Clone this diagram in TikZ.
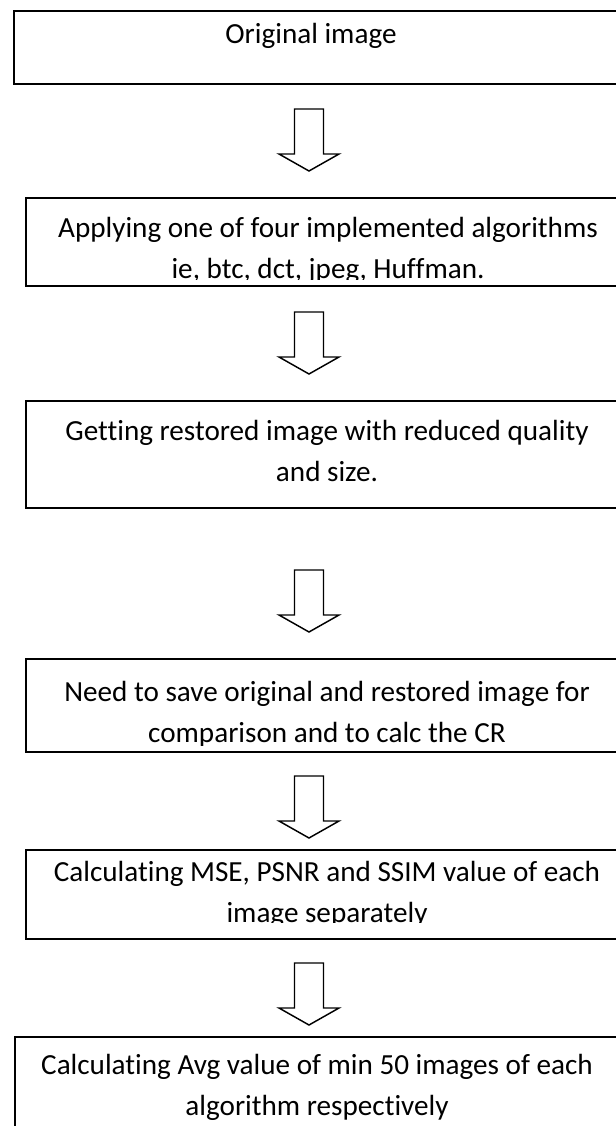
\documentclass[tikz,border=0pt]{standalone}
\usepackage{fontspec}
\setmainfont[Ligatures=NoCommon]{Carlito}
\usetikzlibrary{positioning,calc}

\begin{document}
\begin{tikzpicture}[x=0.48pt, y=-0.48pt,
  stepbox/.style={rectangle, draw=black, line width=1pt, anchor=north west, inner sep=0pt},
  steptext/.style={anchor=north, inner sep=0pt, align=center, font=\fontsize{14}{19.68}\selectfont},
  blockarrow/.pic={\draw[line width=0.7pt, line join=miter] (-14.5,-31) -- (14.5,-31) -- (14.5,14) -- (30,14) -- (0,31) -- (-30,14) -- (-14.5,14) -- cycle;}]
\clip (0,0) rectangle (616,1126);
% boxes
\node[stepbox, minimum width=300.96pt, minimum height=35.04pt] (b1) at (13,10) {};
\node[stepbox, minimum width=295.2pt, minimum height=42.24pt] (b2) at (25,197) {};
\node[stepbox, minimum width=295.2pt, minimum height=51.36pt] (b3) at (25,400) {};
\node[stepbox, minimum width=295.2pt, minimum height=44.64pt] (b4) at (25,658) {};
\node[stepbox, minimum width=295.2pt, minimum height=42.72pt] (b5) at (25,849) {};
\node[stepbox, minimum width=300.48pt, minimum height=57.6pt] (b6) at (14,1036) {};
% texts, cut off at the inner margin of each box
\begin{scope}
  \clip (b1.north west) rectangle ([yshift=3.6pt]b1.south east);
  \node[steptext] (t1) at (311,23) {Original image};
\end{scope}
\begin{scope}
  \clip (b2.north west) rectangle ([yshift=3.6pt]b2.south east);
  \node[steptext] (t2) at (328,217) {Applying one of four implemented algorithms\\ie, btc, dct, jpeg, Huffman.};
\end{scope}
\begin{scope}
  \clip (b3.north west) rectangle ([yshift=3.6pt]b3.south east);
  \node[steptext] (t3) at (327,420) {Getting restored image with reduced quality\\and size.};
\end{scope}
\begin{scope}
  \clip (b4.north west) rectangle ([yshift=3.6pt]b4.south east);
  \node[steptext] (t4) at (327,681) {Need to save original and restored image for\\comparison and to calc the CR};
\end{scope}
\begin{scope}
  \clip (b5.north west) rectangle ([yshift=8.4pt]b5.south east);
  \node[steptext] (t5) at (327,861) {Calculating MSE, PSNR and SSIM value of each\\image separately};
\end{scope}
\node[steptext] (t6) at (317,1054) {Calculating Avg value of min 50 images of each\\algorithm respectively};
% arrows
\pic at (309,140) {blockarrow};
\pic at (309,343) {blockarrow};
\pic at (309,601) {blockarrow};
\pic at (309,807) {blockarrow};
\pic at (309,994) {blockarrow};
\end{tikzpicture}
\end{document}
